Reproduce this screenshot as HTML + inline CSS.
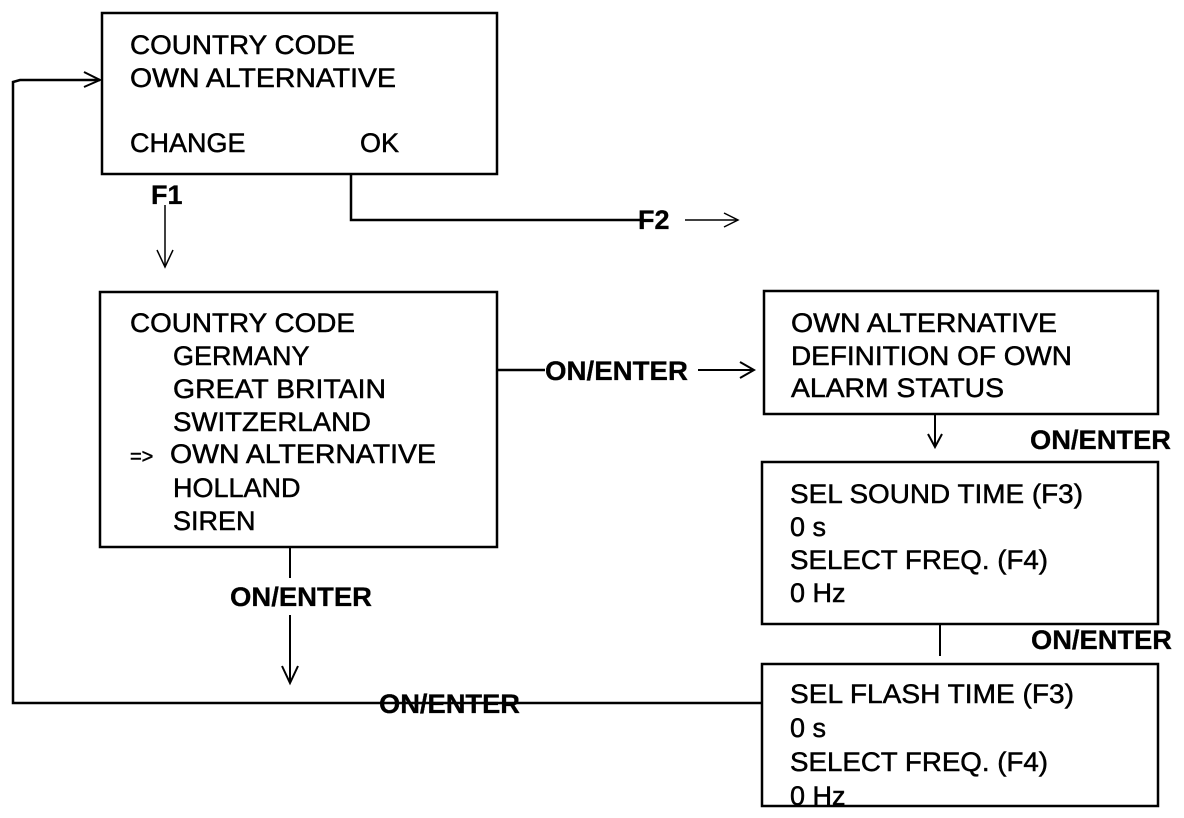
<!DOCTYPE html>
<html><head><style>
html,body{margin:0;padding:0;background:#fff;}
svg{display:block}
text{font-family:"Liberation Sans",Arial,sans-serif;font-size:27px;fill:#000;stroke:#000;stroke-width:0.5;}
.b{font-weight:bold;font-size:27px;stroke-width:0.3;}
</style></head><body>
<svg width="1184" height="818" viewBox="0 0 1184 818" xmlns="http://www.w3.org/2000/svg">
<g fill="none" stroke="#000" stroke-width="2.5">
<rect x="102" y="13" width="395" height="161"/>
<rect x="100" y="292" width="397" height="255"/>
<rect x="764" y="291" width="394" height="123"/>
<rect x="762" y="462" width="396" height="162"/>
<rect x="762" y="664" width="396" height="142"/>
<polyline points="762,703 13,703 13,82 20,80 100,80"/>
<polyline points="84,72 100,80 84,87" stroke-width="2"/>
<line x1="165" y1="205" x2="165" y2="267" stroke-width="1.5"/>
<polyline points="157,250 165,267 173,250" stroke-width="1.5"/>
<polyline points="351,174 351,220 640,220"/>
<line x1="685" y1="220" x2="738" y2="220" stroke-width="1.5"/>
<polyline points="724,213 738,220 724,227" stroke-width="1.5"/>
<line x1="497" y1="370" x2="545" y2="370"/>
<line x1="698" y1="370" x2="754" y2="370" stroke-width="2"/>
<polyline points="740,362 754,370 740,378" stroke-width="2"/>
<line x1="935" y1="414" x2="935" y2="447" stroke-width="2"/>
<polyline points="928,434 935,447 942,434" stroke-width="2"/>
<line x1="940" y1="624" x2="940" y2="656" stroke-width="2"/>
<line x1="290" y1="547" x2="290" y2="578" stroke-width="2"/>
<line x1="290" y1="615" x2="290" y2="683" stroke-width="2"/>
<polyline points="282,666 290,683 298,666" stroke-width="2"/>
</g>
<text x="130" y="54" textLength="225" lengthAdjust="spacingAndGlyphs">COUNTRY CODE</text>
<text x="130" y="87" textLength="266" lengthAdjust="spacingAndGlyphs">OWN ALTERNATIVE</text>
<text x="130" y="152">CHANGE</text>
<text x="360" y="152">OK</text>
<text class="b" x="151" y="204">F1</text>
<text class="b" x="638" y="229">F2</text>
<text x="130" y="332" textLength="225" lengthAdjust="spacingAndGlyphs">COUNTRY CODE</text>
<text x="173" y="365">GERMANY</text>
<text x="173" y="398" textLength="213" lengthAdjust="spacingAndGlyphs">GREAT BRITAIN</text>
<text x="173" y="431" textLength="198" lengthAdjust="spacingAndGlyphs">SWITZERLAND</text>
<text x="130" y="463"><tspan font-size="20">=&gt;</tspan></text>
<text x="170" y="463" textLength="266" lengthAdjust="spacingAndGlyphs">OWN ALTERNATIVE</text>
<text x="173" y="497">HOLLAND</text>
<text x="173" y="530">SIREN</text>
<text class="b" x="545" y="380" textLength="143" lengthAdjust="spacingAndGlyphs">ON/ENTER</text>
<text x="791" y="332" textLength="266" lengthAdjust="spacingAndGlyphs">OWN ALTERNATIVE</text>
<text x="791" y="365" textLength="281" lengthAdjust="spacingAndGlyphs">DEFINITION OF OWN</text>
<text x="791" y="397" textLength="213" lengthAdjust="spacingAndGlyphs">ALARM STATUS</text>
<text class="b" x="1030" y="449" textLength="141" lengthAdjust="spacingAndGlyphs">ON/ENTER</text>
<text x="790" y="503" textLength="293" lengthAdjust="spacingAndGlyphs">SEL SOUND TIME (F3)</text>
<text x="790" y="536">0 s</text>
<text x="790" y="569" textLength="258" lengthAdjust="spacingAndGlyphs">SELECT FREQ. (F4)</text>
<text x="790" y="602">0 Hz</text>
<text class="b" x="1031" y="649" textLength="141" lengthAdjust="spacingAndGlyphs">ON/ENTER</text>
<text x="790" y="703" textLength="284" lengthAdjust="spacingAndGlyphs">SEL FLASH TIME (F3)</text>
<text x="790" y="737">0 s</text>
<text x="790" y="771" textLength="258" lengthAdjust="spacingAndGlyphs">SELECT FREQ. (F4)</text>
<text x="790" y="805">0 Hz</text>
<text class="b" x="230" y="606" textLength="142" lengthAdjust="spacingAndGlyphs">ON/ENTER</text>
<text class="b" x="379" y="713" textLength="141" lengthAdjust="spacingAndGlyphs">ON/ENTER</text>
</svg>
</body></html>
